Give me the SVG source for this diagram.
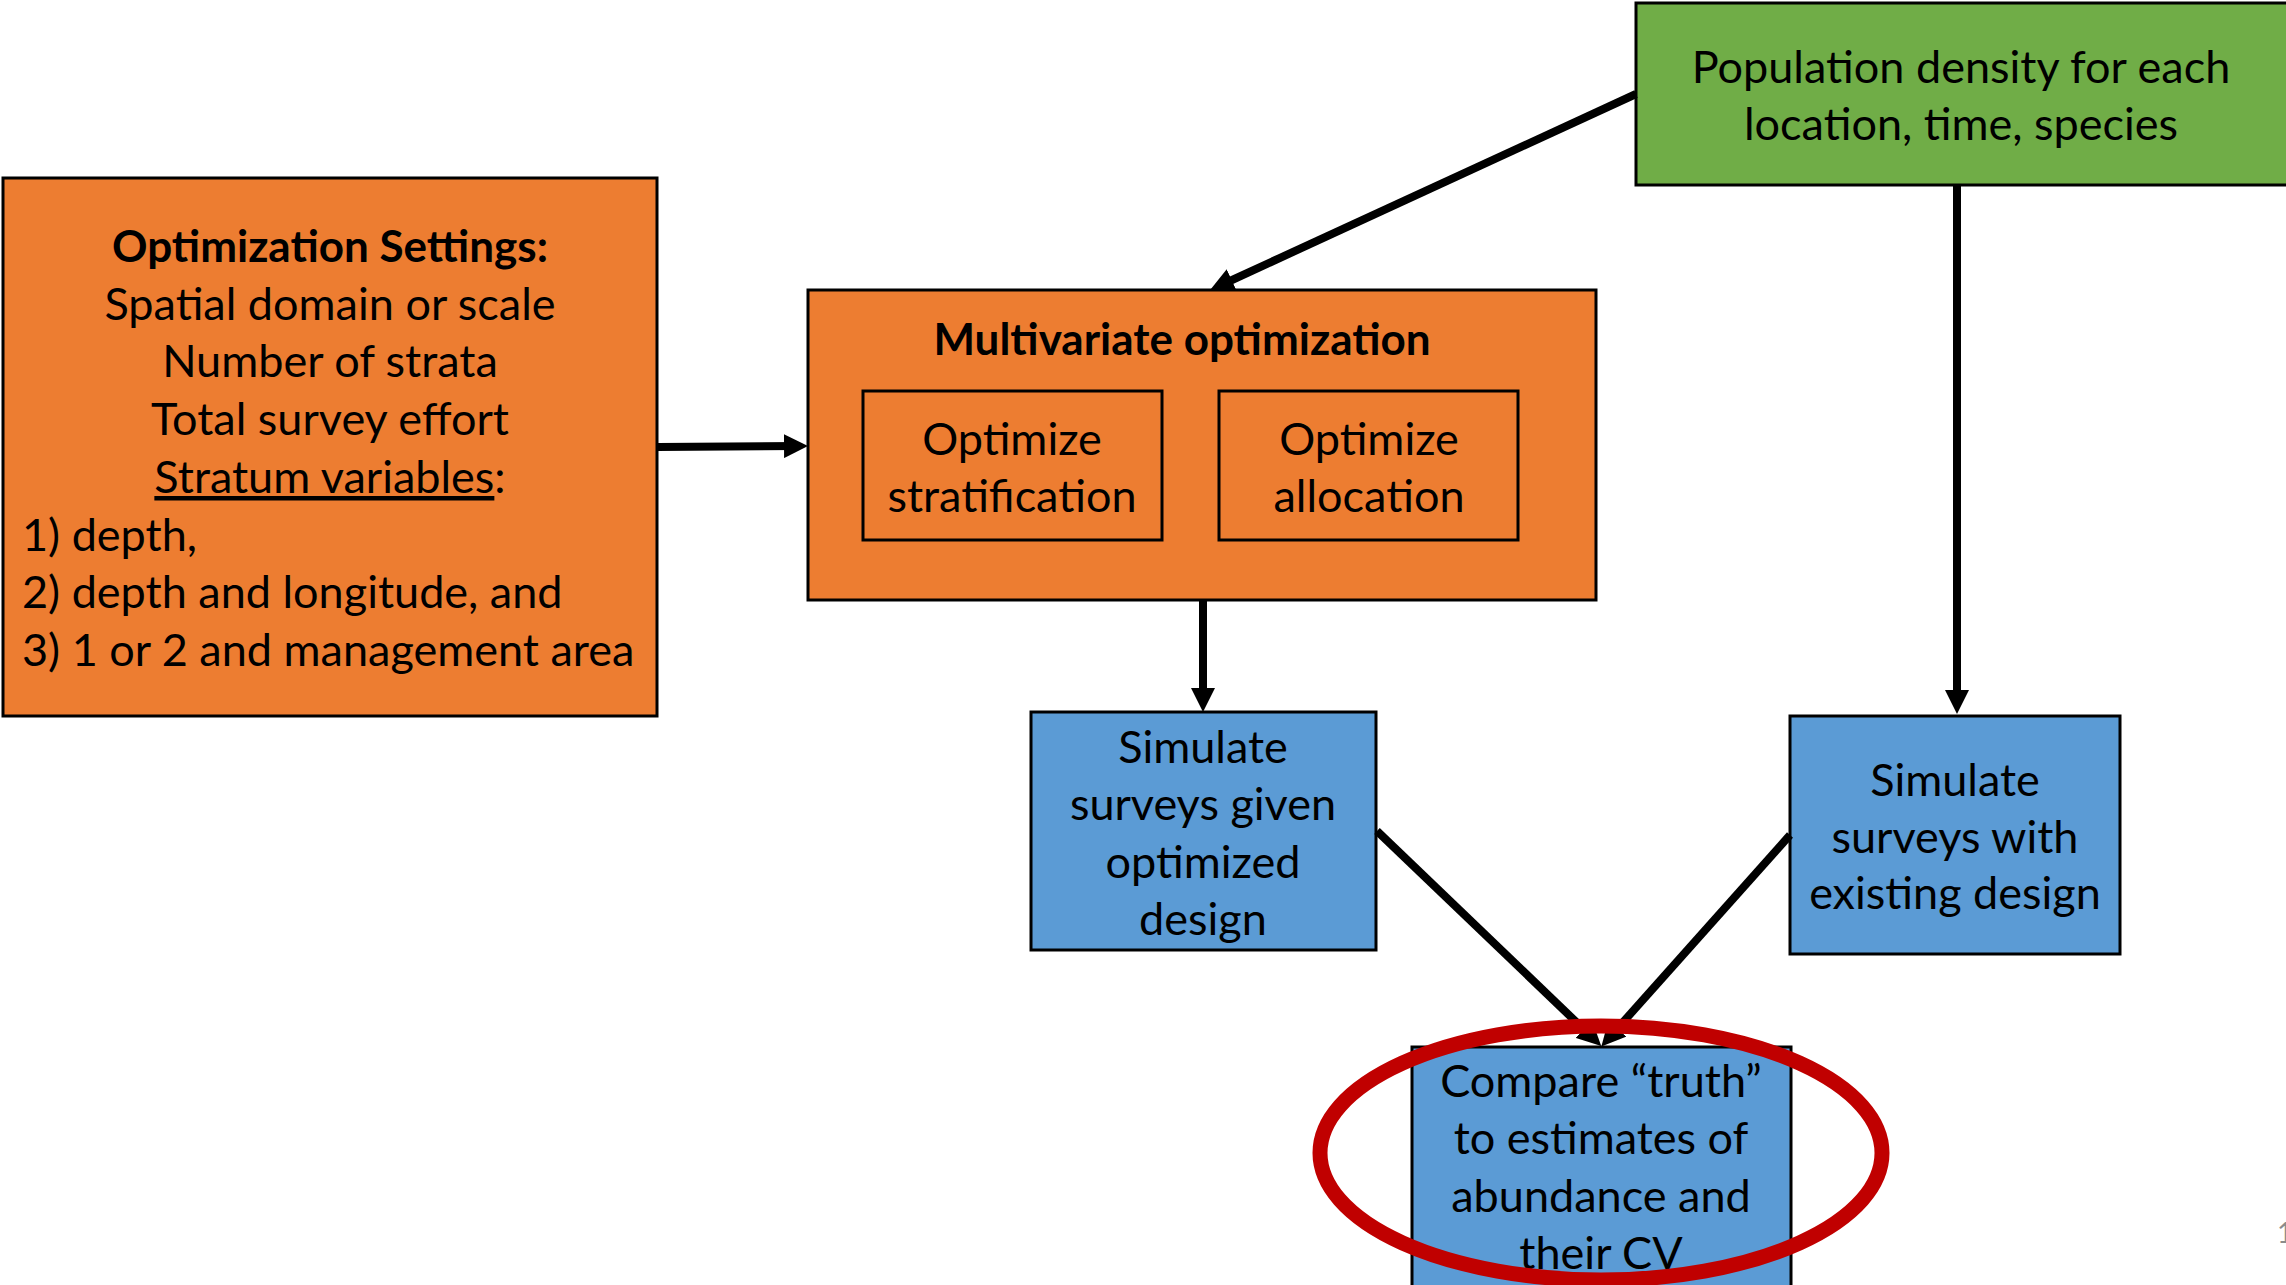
<svg xmlns="http://www.w3.org/2000/svg" width="2286" height="1285" viewBox="0 0 2286 1285">
<style>
  text { font-family: Lato, "Open Sans", "Liberation Sans", sans-serif; font-size: 45px; fill: #000; }
  .c { text-anchor: middle; }
  .b { font-weight: bold; font-size: 44px; }
  .orange { fill: #ED7D31; stroke: #000; stroke-width: 3; }
  .green { fill: #70AD47; stroke: #000; stroke-width: 3; }
  .blue { fill: #5B9BD5; stroke: #000; stroke-width: 3; }
  .edge { stroke: #000; stroke-width: 8; fill: none; marker-end: url(#ah); }
</style>
<defs>
  <marker id="ah" markerUnits="userSpaceOnUse" markerWidth="24" markerHeight="24" refX="14" refY="12" orient="auto" viewBox="0 0 24 24">
    <path d="M0,0 L24,12 L0,24 z" fill="#000"/>
  </marker>
</defs>
<rect width="2286" height="1285" fill="#fff"/>

<g id="settings">
  <rect class="orange" x="3" y="178" width="654" height="538"/>
  <text class="c b" x="330" y="262">Optimization Settings:</text>
  <text class="c" x="330" y="320">Spatial domain or scale</text>
  <text class="c" x="330" y="377">Number of strata</text>
  <text class="c" x="330" y="435">Total survey effort</text>
  <text class="c" x="330" y="493"><tspan text-decoration="underline">Stratum variables</tspan>:</text>
  <text x="22" y="551">1) depth,</text>
  <text x="22" y="608">2) depth and longitude, and</text>
  <text x="22" y="666">3) 1 or 2 and management area</text>
</g>

<g id="multivariate">
  <rect class="orange" x="808" y="290" width="788" height="310"/>
  <text class="c b" x="1182" y="355">Multivariate optimization</text>
</g>

<g id="opt-strat">
  <rect class="orange" x="863" y="391" width="299" height="149"/>
  <text class="c" x="1012" y="455">Optimize</text>
  <text class="c" x="1012" y="512">stratification</text>
</g>

<g id="opt-alloc">
  <rect class="orange" x="1219" y="391" width="299" height="149"/>
  <text class="c" x="1369" y="455">Optimize</text>
  <text class="c" x="1369" y="512">allocation</text>
</g>

<g id="population">
  <rect class="green" x="1636" y="3" width="652" height="182"/>
  <text class="c" x="1961" y="83">Population density for each</text>
  <text class="c" x="1961" y="140">location, time, species</text>
</g>

<g id="sim-optimized">
  <rect class="blue" x="1031" y="712" width="345" height="238"/>
  <text class="c" x="1203" y="763">Simulate</text>
  <text class="c" x="1203" y="820">surveys given</text>
  <text class="c" x="1203" y="878">optimized</text>
  <text class="c" x="1203" y="935">design</text>
</g>

<g id="sim-existing">
  <rect class="blue" x="1790" y="716" width="330" height="238"/>
  <text class="c" x="1955" y="796">Simulate</text>
  <text class="c" x="1955" y="853">surveys with</text>
  <text class="c" x="1955" y="909">existing design</text>
</g>

<g id="compare">
  <rect class="blue" x="1412" y="1047" width="379" height="245"/>
  <text class="c" x="1601" y="1097">Compare “truth”</text>
  <text class="c" x="1601" y="1154">to estimates of</text>
  <text class="c" x="1601" y="1212">abundance and</text>
  <text class="c" x="1601" y="1269">their CV</text>
</g>

<g id="connectors">
  <path class="edge" d="M658,447 L798,446"/>
  <path class="edge" d="M1636,94 L1219,286"/>
  <path class="edge" d="M1203,601 L1203,702"/>
  <path class="edge" d="M1957,186 L1957,704"/>
  <path class="edge" d="M1377,831 L1594,1039"/>
  <path class="edge" d="M1790,835 L1608,1039"/>
</g>

<g id="highlight">
  <ellipse cx="1601" cy="1153" rx="281" ry="127" fill="none" stroke="#C00000" stroke-width="15"/>
</g>

<text x="2277" y="1243" style="font-size:28px; fill:#8C8C8C;">1</text>
</svg>
